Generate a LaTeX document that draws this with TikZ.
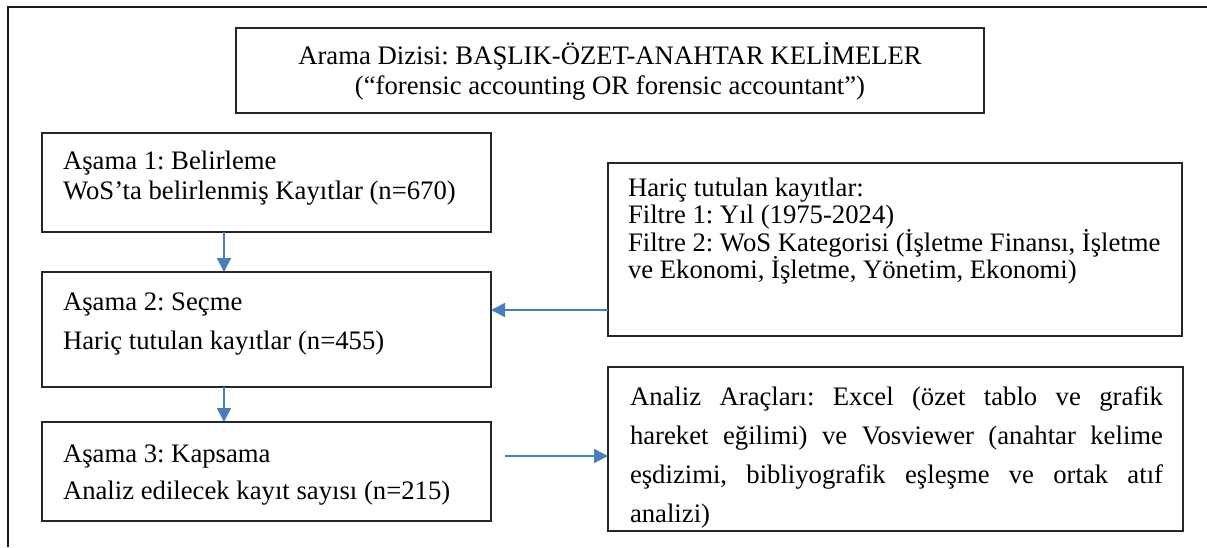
\documentclass[tikz,border=0pt]{standalone}
\usepackage{fontspec}
\setmainfont{Liberation Serif}
\usetikzlibrary{arrows.meta}
\definecolor{arrowblue}{HTML}{4A7EBB}
\frenchspacing

% Top-aligned paragraph of fixed size: width, height, left pad, first baseline, line pitch, text
\newcommand{\leftpar}[6]{\parbox[c][#2][t]{#1}{\fontsize{26.7pt}{#5}\selectfont
  \lineskiplimit=-100pt\raggedright\leftskip=#3\relax\rule{0pt}{#4}#6}}
% Same, justified, with left and right pads
\newcommand{\justpar}[7]{\parbox[c][#2][t]{#1}{\fontsize{26.7pt}{#6}\selectfont
  \lineskiplimit=-100pt\leftskip=#3\relax\rightskip=#4\relax\rule{0pt}{#5}#7}}
% Centred lines
\newcommand{\midpar}[5]{\parbox[c][#2][t]{#1}{\fontsize{26.7pt}{#4}\selectfont
  \lineskiplimit=-100pt\centering\rule{0pt}{#3}#5}}

\begin{document}
\begin{tikzpicture}[x=1pt,y=-1pt,
  box/.style={draw=black!85, line width=1.3pt, inner sep=0pt, outer sep=0pt, anchor=north west},
  flow/.style={draw=arrowblue, line width=1.6pt, -{Triangle[length=14pt,width=14pt]}},
  outer/.style={draw=black!90, line width=1.8pt}]
\useasboundingbox (0,0) rectangle (1207,547);

% frame
\draw[outer] (8,547) -- (8,7) -- (1207,7);

% search string
\node[box] (search) at (236,28)
  {\midpar{748pt}{85pt}{36.5pt}{30pt}{Arama Dizisi: BAŞLIK-ÖZET-ANAHTAR KELİMELER\\(“forensic accounting OR forensic accountant”)}};

% stages
\node[box] (stage1) at (42,133)
  {\leftpar{449pt}{99pt}{21pt}{36pt}{30pt}{Aşama 1: Belirleme\\WoS’ta belirlenmiş Kayıtlar (n=670)}};
\node[box] (stage2) at (42,272)
  {\leftpar{449pt}{115pt}{21pt}{38pt}{39pt}{Aşama 2: Seçme\\Hariç tutulan kayıtlar (n=455)}};
\node[box] (stage3) at (42,422)
  {\leftpar{449pt}{99pt}{21pt}{40pt}{37.5pt}{Aşama 3: Kapsama\\Analiz edilecek kayıt sayısı (n=215)}};

% side boxes
\node[box] (excluded) at (608,163)
  {\leftpar{574pt}{173pt}{20pt}{33pt}{27.5pt}{Hariç tutulan kayıtlar:\\Filtre 1: Yıl (1975-2024)\\Filtre 2: WoS Kategorisi (İşletme Finansı, İşletme\\ve Ekonomi, İşletme, Yönetim, Ekonomi)}};
\node[box] (tools) at (608,367)
  {\justpar{575pt}{164pt}{22pt}{20pt}{38.5pt}{39pt}{Analiz Araçları: Excel (özet tablo ve grafik\linebreak hareket eğilimi) ve Vosviewer (anahtar kelime\linebreak eşdizimi, bibliyografik eşleşme ve ortak atıf\linebreak analizi)}};

% connectors
\draw[flow] ([xshift=182pt]stage1.south west) -- ([xshift=182pt]stage2.north west);
\draw[flow] ([xshift=182pt]stage2.south west) -- ([xshift=182pt]stage3.north west);
\draw[flow] ([yshift=26pt]excluded.south west) -- ([yshift=26pt]excluded.south west -| stage2.east);
\coordinate (toolsfrom) at (505,456);
\draw[flow] (toolsfrom) -- (toolsfrom -| tools.west);
\end{tikzpicture}
\end{document}
